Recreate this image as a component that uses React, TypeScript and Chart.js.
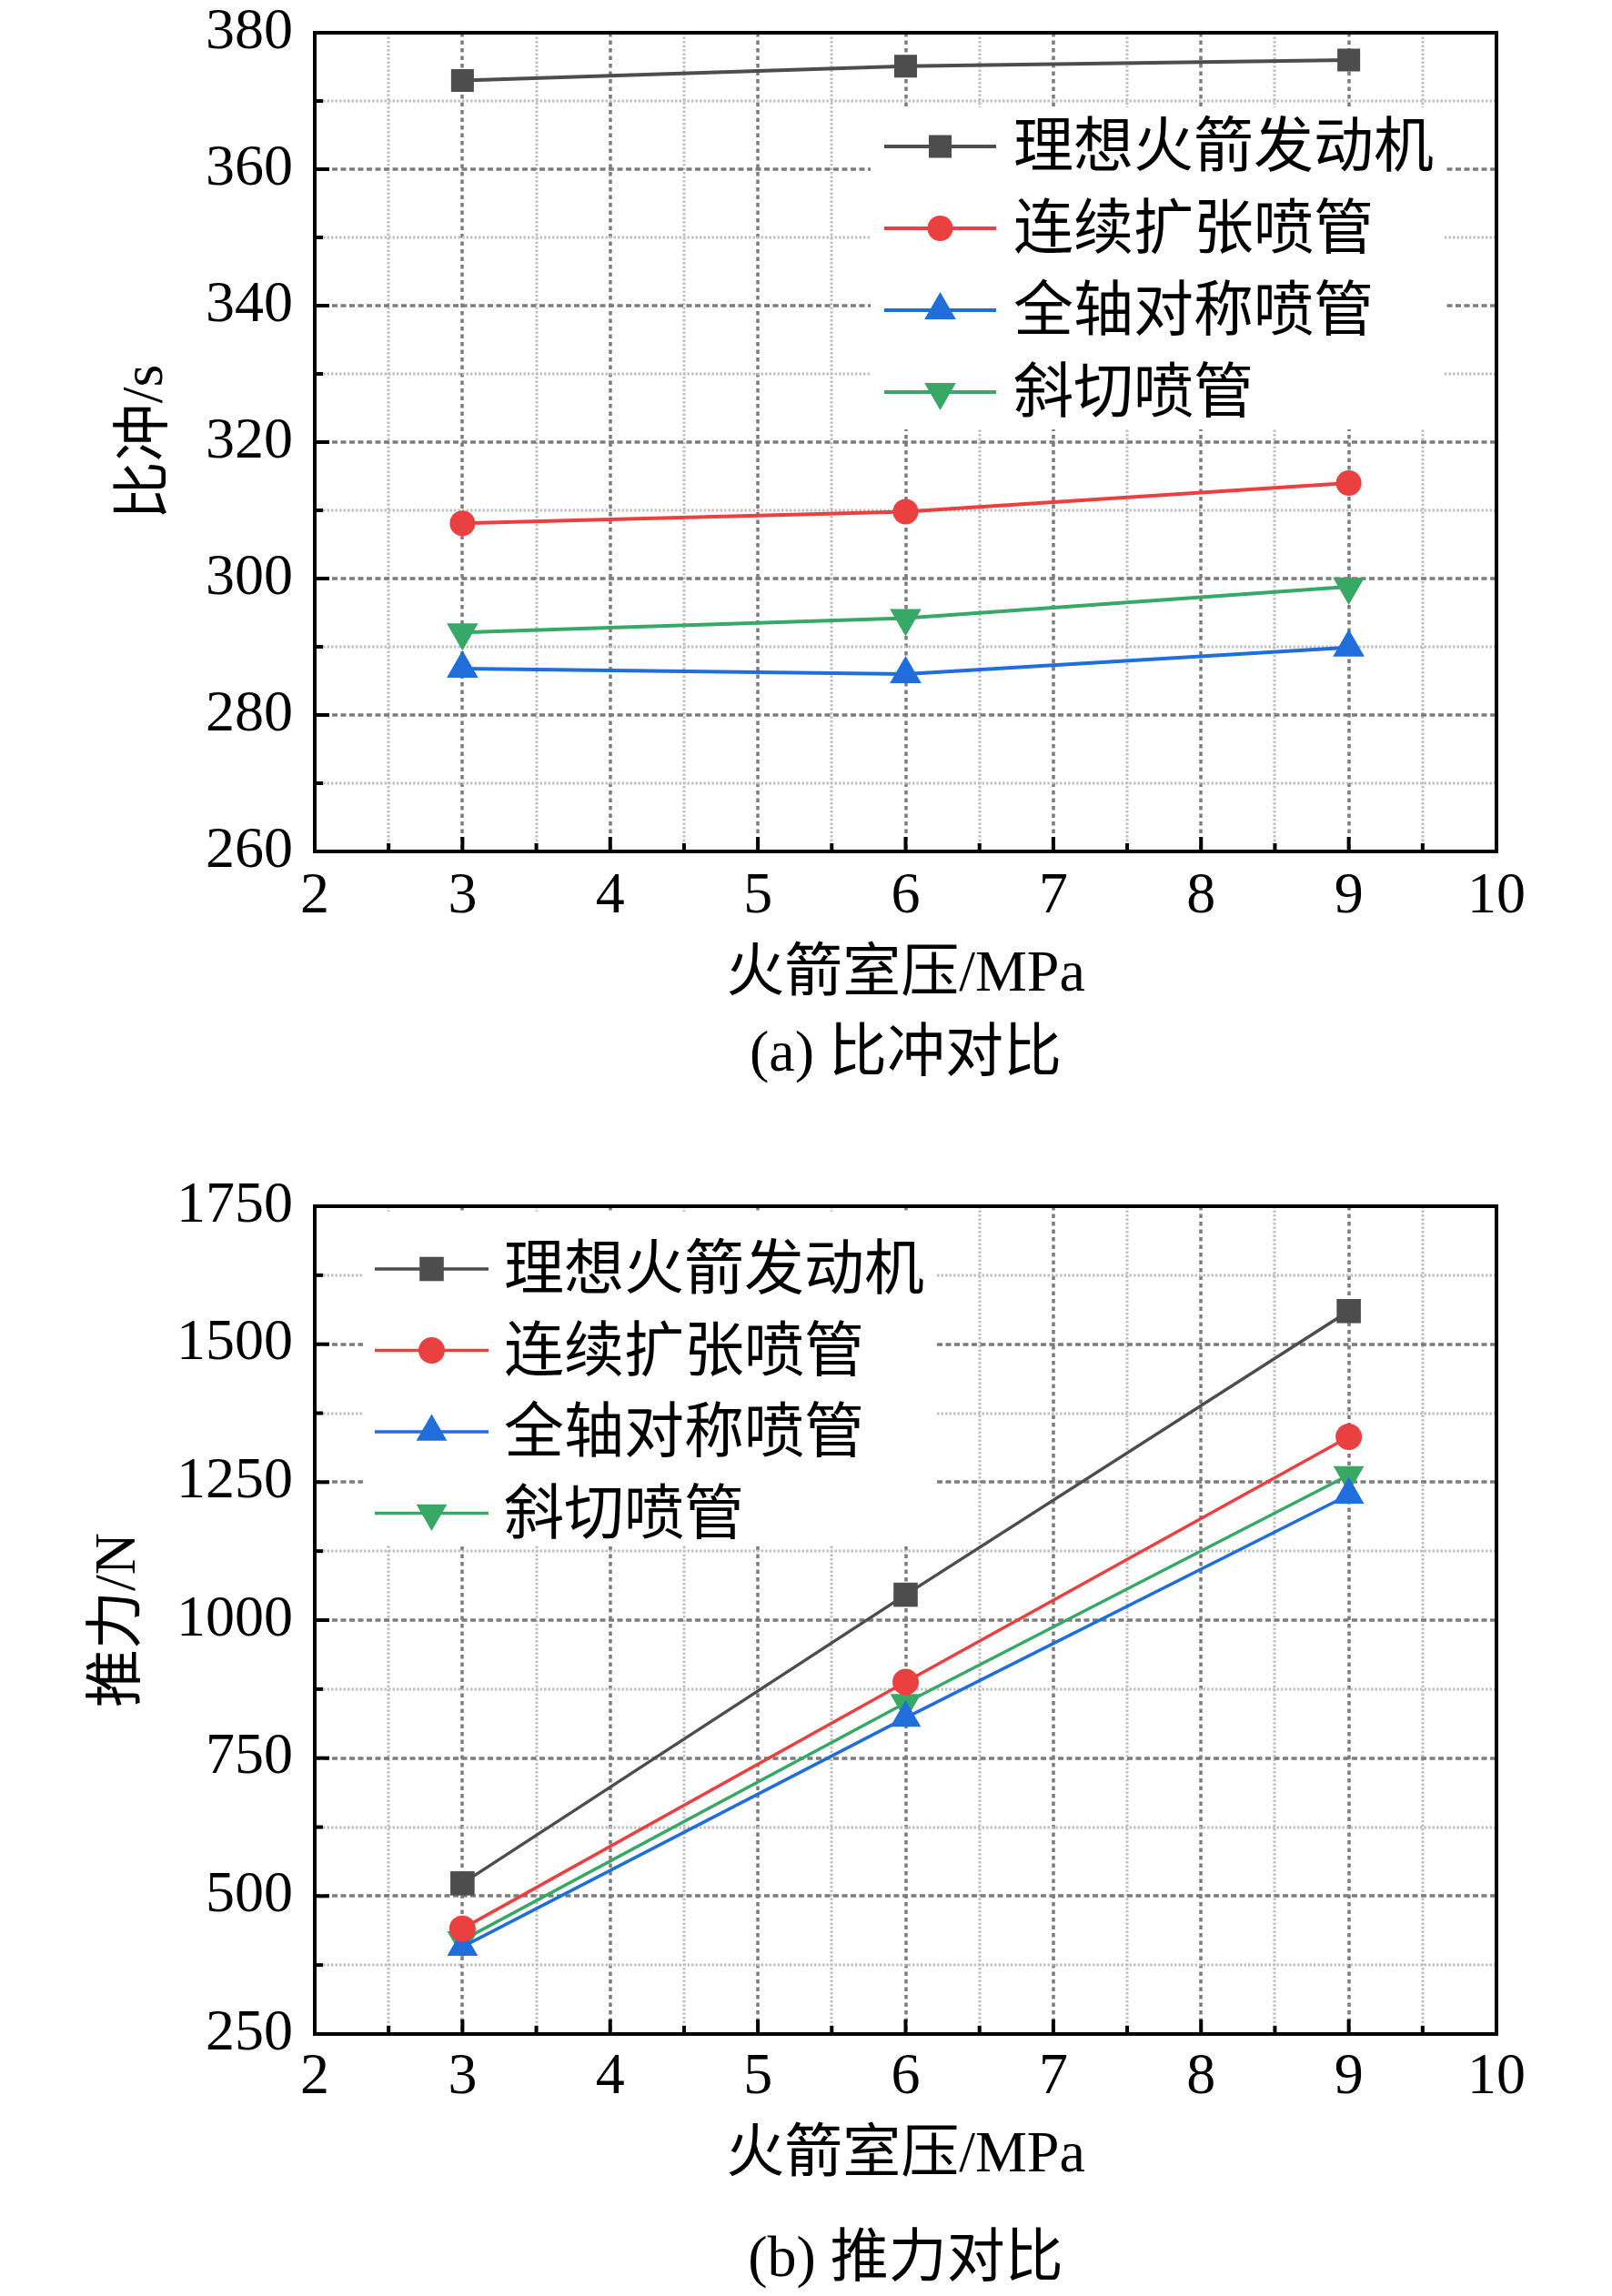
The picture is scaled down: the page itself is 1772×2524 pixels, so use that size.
import React, { useEffect, useRef } from "react";
import { Chart, registerables } from "chart.js";
import { drawPoint } from "chart.js/helpers";

Chart.register(...registerables);

// chamber pressure (MPa)
const pressures = [3, 6, 9];

const seriesNames = ["理想火箭发动机", "连续扩张喷管", "全轴对称喷管", "斜切喷管"];
const seriesColors = ["#4d4d4d", "#ea4040", "#1f6edb", "#37a866"];
const seriesMarkers = ["rect", "circle", "triangle", "triangle"];
const markerRotations = [0, 0, 0, 180];

// (a) specific impulse, s
const ispIdeal = [373.0, 375.1, 376.0];
const ispContinuous = [308.1, 309.8, 314.0];
const ispAxisym = [286.8, 286.0, 289.9];
const ispOblique = [292.1, 294.2, 298.8];

// (b) thrust, N
const thrustIdeal = [523, 1046, 1560];
const thrustContinuous = [441, 888, 1332];
const thrustAxisym = [408, 823, 1227];
const thrustOblique = [420, 850, 1263];

// tick labels
const xLabels = [2, 3, 4, 5, 6, 7, 8, 9, 10];
const ispLabels = [260, 280, 300, 320, 340, 360, 380];
const thrustLabels = [250, 500, 750, 1000, 1250, 1500, 1750];

const serif = "'Liberation Serif', 'Noto Sans CJK SC', serif";

const isOn = (v: number, list: number[]) => list.some((t) => Math.abs(t - v) < 1e-6);

// grid lines (major dashed, minor dotted), inward ticks and the frame
const gridFramePlugin = {
  id: "gridFrame",
  beforeDatasetsDraw(chart: any, _args: any, opts: any) {
    const { ctx, chartArea: a } = chart;
    const xs = chart.scales.x;
    const ys = chart.scales.y;
    ctx.save();
    xs.ticks.forEach((t: any) => {
      const px = Math.round(xs.getPixelForValue(t.value));
      if (px <= a.left + 3 || px >= a.right - 3) return;
      const major = isOn(t.value, opts.xLabels);
      ctx.strokeStyle = major ? "#7c7c7c" : "#c0c0c0";
      ctx.lineWidth = major ? 3.5 : 3;
      ctx.setLineDash(major ? [4.5, 4] : [2.5, 2]);
      ctx.beginPath();
      ctx.moveTo(px, a.top);
      ctx.lineTo(px, a.bottom);
      ctx.stroke();
    });
    ys.ticks.forEach((t: any) => {
      const py = Math.round(ys.getPixelForValue(t.value));
      if (py <= a.top + 3 || py >= a.bottom - 3) return;
      const major = isOn(t.value, opts.yLabels);
      ctx.strokeStyle = major ? "#7c7c7c" : "#c0c0c0";
      ctx.lineWidth = major ? 3.5 : 3;
      ctx.setLineDash(major ? [6, 3.5] : [2.5, 2]);
      ctx.beginPath();
      ctx.moveTo(a.left, py);
      ctx.lineTo(a.right, py);
      ctx.stroke();
    });
    ctx.restore();
  },
  afterDatasetsDraw(chart: any, _args: any, opts: any) {
    const { ctx, chartArea: a } = chart;
    const xs = chart.scales.x;
    const ys = chart.scales.y;
    ctx.save();
    ctx.setLineDash([]);
    ctx.strokeStyle = "#000";
    ctx.lineWidth = 4;
    xs.ticks.forEach((t: any) => {
      const px = xs.getPixelForValue(t.value);
      const len = isOn(t.value, opts.xLabels) ? 16 : 9;
      ctx.beginPath();
      ctx.moveTo(px, a.bottom);
      ctx.lineTo(px, a.bottom - len);
      ctx.stroke();
    });
    ys.ticks.forEach((t: any) => {
      const py = ys.getPixelForValue(t.value);
      const len = isOn(t.value, opts.yLabels) ? 16 : 9;
      ctx.beginPath();
      ctx.moveTo(a.left, py);
      ctx.lineTo(a.left + len, py);
      ctx.stroke();
    });
    ctx.strokeRect(a.left, a.top, a.right - a.left, a.bottom - a.top);
    ctx.restore();
  },
};

// legend drawn inside the plot area
const insideLegendPlugin = {
  id: "insideLegend",
  beforeDatasetsDraw(chart: any, _args: any, o: any) {
    const { ctx } = chart;
    ctx.save();
    ctx.fillStyle = "#fff";
    ctx.fillRect(o.boxX, o.boxY, o.boxW, o.boxH);
    ctx.restore();
  },
  afterDatasetsDraw(chart: any, _args: any, o: any) {
    const { ctx } = chart;
    ctx.save();
    chart.data.datasets.forEach((ds: any, i: number) => {
      const y = o.rowY + i * o.rowGap;
      ctx.setLineDash([]);
      ctx.strokeStyle = ds.borderColor;
      ctx.lineWidth = ds.borderWidth;
      ctx.beginPath();
      ctx.moveTo(o.lineX, y);
      ctx.lineTo(o.lineX + o.lineLen, y);
      ctx.stroke();
      ctx.fillStyle = ds.pointBackgroundColor;
      drawPoint(
        ctx,
        { pointStyle: ds.pointStyle, radius: ds.pointRadius, rotation: ds.pointRotation, borderWidth: 0 } as any,
        o.lineX + o.lineLen / 2,
        y
      );
      ctx.fillStyle = "#000";
      ctx.font = `${o.fontSize}px ${serif}`;
      ctx.textAlign = "left";
      ctx.textBaseline = "middle";
      ctx.fillText(ds.label, o.textX, y + 5);
    });
    ctx.restore();
  },
};

interface PanelProps {
  height: number;
  series: number[][];
  yMin: number;
  yMax: number;
  yStep: number;
  yLabels: number[];
  yTitle: string;
  caption: string;
  lineWidth: number;
  radii: number[];
  layout: {
    padTop: number;
    padBottom: number;
    xHeight: number;
    xTitlePad: number;
    xTickPad: number;
    yTitlePad: number;
  };
  legend: any;
}

const Panel: React.FC<PanelProps> = (p) => {
  const canvasRef = useRef<HTMLCanvasElement>(null);

  useEffect(() => {
    if (!canvasRef.current) return;
    const chart = new Chart(canvasRef.current, {
      type: "line",
      data: {
        datasets: p.series.map((vals, i) => ({
          label: seriesNames[i],
          data: pressures.map((x, k) => ({ x, y: vals[k] })),
          borderColor: seriesColors[i],
          borderWidth: p.lineWidth,
          pointStyle: seriesMarkers[i] as any,
          pointRotation: markerRotations[i],
          pointRadius: p.radii[i],
          pointBackgroundColor: seriesColors[i],
          pointBorderColor: seriesColors[i],
          pointBorderWidth: 0,
          tension: 0,
          fill: false,
        })),
      },
      options: {
        animation: false,
        responsive: false,
        devicePixelRatio: 1,
        layout: { padding: { top: p.layout.padTop, right: 127, bottom: p.layout.padBottom, left: 0 } },
        scales: {
          x: {
            type: "linear",
            min: 2,
            max: 10,
            grid: { display: false, drawTicks: false },
            border: { display: false },
            ticks: {
              stepSize: 0.5,
              autoSkip: false,
              maxRotation: 0,
              padding: p.layout.xTickPad,
              color: "#000",
              font: { family: serif, size: 64 },
              callback: (v: any) => (isOn(Number(v), xLabels) ? String(v) : ""),
            },
            title: {
              display: true,
              text: "火箭室压/MPa",
              color: "#000",
              font: { family: serif, size: 64 },
              padding: { top: 0, bottom: p.layout.xTitlePad },
            },
            afterFit: (s: any) => {
              s.height = p.layout.xHeight;
              s.paddingLeft = 0;
              s.paddingRight = 0;
            },
          },
          y: {
            type: "linear",
            min: p.yMin,
            max: p.yMax,
            grid: { display: false, drawTicks: false },
            border: { display: false },
            ticks: {
              stepSize: p.yStep,
              autoSkip: false,
              padding: 24,
              color: "#000",
              font: { family: serif, size: 64 },
              callback: (v: any) => (isOn(Number(v), p.yLabels) ? String(v) : ""),
            },
            title: {
              display: true,
              text: p.yTitle,
              color: "#000",
              font: { family: serif, size: 64 },
              padding: { top: p.layout.yTitlePad, bottom: 0 },
            },
            afterFit: (s: any) => {
              s.width = 346;
              s.paddingTop = 0;
              s.paddingBottom = 0;
            },
          },
        },
        plugins: {
          legend: { display: false },
          tooltip: { enabled: false },
          title: {
            display: true,
            text: p.caption,
            position: "bottom",
            fullSize: false,
            color: "#000",
            font: { family: serif, size: 64, weight: "normal" },
            padding: { top: 0, bottom: 0 },
          },
          gridFrame: { xLabels, yLabels: p.yLabels },
          insideLegend: p.legend,
        } as any,
      },
      plugins: [gridFramePlugin, insideLegendPlugin],
    });
    return () => chart.destroy();
  }, [p]);

  return <canvas ref={canvasRef} width={1772} height={p.height} style={{ display: "block" }} />;
};

const ispPanel: PanelProps = {
  height: 1220,
  series: [ispIdeal, ispContinuous, ispAxisym, ispOblique],
  yMin: 260,
  yMax: 380,
  yStep: 10,
  yLabels: ispLabels,
  yTitle: "比冲/s",
  caption: "(a) 比冲对比",
  lineWidth: 4,
  radii: [17.7, 14, 20, 20],
  layout: { padTop: 36, padBottom: 21.6, xHeight: 185.6, xTitlePad: 11, xTickPad: 12, yTitlePad: 123 },
  legend: {
    boxX: 957, boxY: 118, boxW: 630, boxH: 354,
    lineX: 972, lineLen: 123, textX: 1114, rowY: 161, rowGap: 90, fontSize: 66,
  },
};

const thrustPanel: PanelProps = {
  height: 1304,
  series: [thrustIdeal, thrustContinuous, thrustAxisym, thrustOblique],
  yMin: 250,
  yMax: 1750,
  yStep: 125,
  yLabels: thrustLabels,
  yTitle: "推力/N",
  caption: "(b) 推力对比",
  lineWidth: 3.5,
  radii: [18.8, 14.5, 19.5, 19.5],
  layout: { padTop: 106, padBottom: 0, xHeight: 211.2, xTitlePad: 38.5, xTickPad: 10, yTitlePad: 93 },
  legend: {
    boxX: 399, boxY: 112, boxW: 629, boxH: 366,
    lineX: 412, lineLen: 125, textX: 554, rowY: 175, rowGap: 89.5, fontSize: 66,
  },
};

export default function App() {
  return (
    <div style={{ position: "absolute", left: 0, top: 0, width: 1772, height: 2524, background: "#fff" }}>
      <Panel {...ispPanel} />
      <Panel {...thrustPanel} />
    </div>
  );
}
